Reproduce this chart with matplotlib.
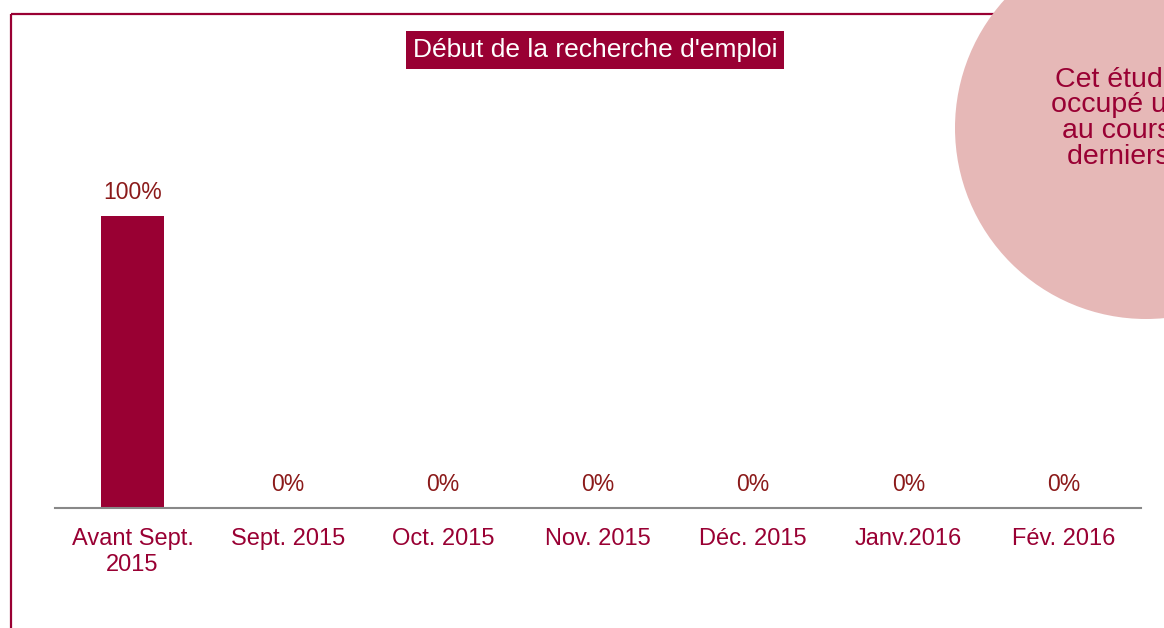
import matplotlib.pyplot as plt
from matplotlib.patches import Rectangle, Circle

plt.rcParams['font.family'] = ['Liberation Sans', 'DejaVu Sans']

# Data
categories = ['Avant Sept.\n2015', 'Sept. 2015', 'Oct. 2015', 'Nov. 2015',
              'Déc. 2015', 'Janv.2016', 'Fév. 2016']
values = [100, 0, 0, 0, 0, 0, 0]
title = "Début de la recherche d'emploi"
bubble_lines = ["Cet étudiant a", "occupé un emploi", "au cours des", "derniers mois"]

bar_color = '#990033'
text_color = '#990033'
value_color = '#8B1A1A'

W, H = 1164, 628
fig = plt.figure(figsize=(W / 100, H / 100), dpi=100)
fig.patch.set_facecolor('white')

# background layer in pixel coordinates (frame + bubble)
bg = fig.add_axes([0, 0, 1, 1])
bg.set_xlim(0, W)
bg.set_ylim(H, 0)
bg.axis('off')
bg.add_patch(Rectangle((11, 14), 1300, 700, fill=False, edgecolor=bar_color, linewidth=1.6))
bg.add_patch(Circle((1146, 128), 191, facecolor='#E6B8B7', edgecolor='none', zorder=3))
bubble_x = [1055, 1051, 1062, 1067]
for i, line in enumerate(bubble_lines):
    bg.text(bubble_x[i], 87 + i * 25.5, line, ha='left', va='baseline',
            fontsize=20.5, color=text_color, zorder=4)

# title box
bg.text(595, 50, title, ha='center', va='center', fontsize=19, color='white',
        bbox=dict(boxstyle='square,pad=0.25', facecolor=bar_color, edgecolor='none'))

# chart axes
left, right = 55, 1141
bottom, top = 508, 70
ax = fig.add_axes([left / W, 1 - bottom / H, (right - left) / W, (bottom - top) / H])
ax.patch.set_alpha(0)
x = range(len(categories))
bars = ax.bar(x, values, width=0.41, color=bar_color)
ymax = 100 * (bottom - top) / (bottom - 216)
ax.set_ylim(0, ymax)
ax.set_xlim(-0.5, len(categories) - 0.5)

for rect, v in zip(bars, values):
    ax.annotate('{}%'.format(v),
                xy=(rect.get_x() + rect.get_width() / 2, rect.get_height()),
                xytext=(0, 12), textcoords='offset points',
                ha='center', va='baseline', fontsize=16.5, color=value_color)

ax.set_xticks(list(x))
ax.set_xticklabels(categories, fontsize=17, color=text_color)
ax.tick_params(axis='x', length=0, pad=14.5)
ax.set_yticks([])
for s in ['top', 'right', 'left']:
    ax.spines[s].set_visible(False)
ax.spines['bottom'].set_color('#888888')
ax.spines['bottom'].set_linewidth(1.5)

fig.savefig('out.png', dpi=100)
